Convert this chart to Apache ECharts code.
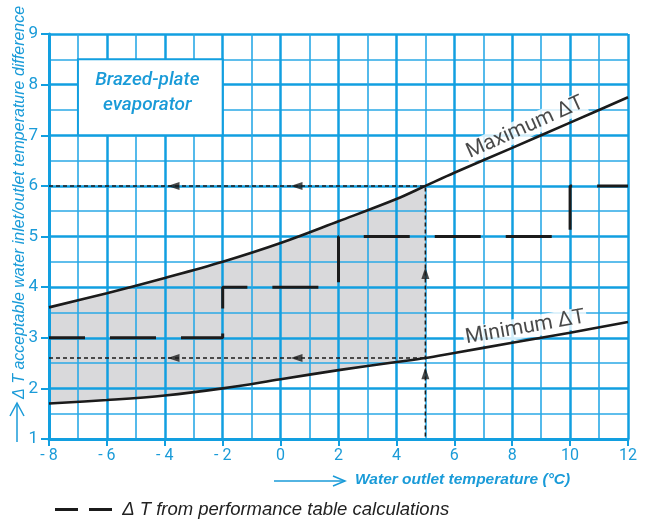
<!DOCTYPE html>
<html>
<head>
<meta charset="utf-8">
<script src="https://cdn.jsdelivr.net/npm/echarts@6/dist/echarts.min.js"></script>
<style>
  html, body { margin: 0; padding: 0; background: #fff; }
  #chart { width: 647px; height: 520px; }
</style>
</head>
<body>
<div id="chart"></div>
<script>
// Water outlet temperature (°C) sample points for the two limit curves
const outletTemps = [-8, -6, -4, -2, 0, 2, 4, 5, 6, 8, 10, 12];
// Maximum acceptable ΔT (K)
const maxDeltaT = [3.6, 3.88, 4.18, 4.5, 4.87, 5.3, 5.74, 6.0, 6.26, 6.75, 7.25, 7.75];
// Minimum acceptable ΔT (K)
const minDeltaT = [1.7, 1.77, 1.86, 2.0, 2.18, 2.36, 2.52, 2.6, 2.7, 2.9, 3.1, 3.31];

// ΔT from performance table calculations (stepped)
const stepTemps = [-8, -2, 2, 10, 12];
const stepDeltaT = [3, 4, 5, 6, 6];

// Worked example: reading at 5 °C outlet temperature
const exampleTemp = 5;
const leftArrowTemps = [-3.7, 0.55];
const upArrowDeltaT = [2.3, 4.28];

// Title box extent (axis units)
const boxFrom = [-7, 8.5];
const boxTo = [-2, 7];

const curveLabels = ['Maximum ΔT', 'Minimum ΔT'];
const stepName = 'Δ T from performance table calculations';
const titleText = 'Brazed-plate\nevaporator';
const xTitle = 'Water outlet temperature (°C)';
const yTitle = 'Δ T acceptable water inlet/outlet temperature difference';

const cyan = '#129fe0';
const cyanMinor = '#2aa9e6';
const textCyan = '#1a9bd8';
const ink = '#1b1b1b';

const exIdx = outletTemps.indexOf(exampleTemp);
const exMax = maxDeltaT[exIdx];
const exMin = minDeltaT[exIdx];

// indices of the acceptable band drawn up to the example temperature
const bandIdx = outletTemps.map((t, i) => i).filter(i => outletTemps[i] <= exampleTemp);

const chart = echarts.init(document.getElementById('chart'), null, { renderer: 'canvas' });

const axisCommon = {
  type: 'value',
  z: 0.5,
  axisLine: { onZero: false, lineStyle: { color: cyan, width: 3 } },
  splitLine: { show: true, lineStyle: { color: cyan, width: 2.5 } },
  minorTick: { show: false, splitNumber: 2 },
  minorSplitLine: { show: true, lineStyle: { color: cyanMinor, width: 1.6 } }
};

const option = {
  animation: false,
  backgroundColor: '#fff',
  grid: { left: 49, right: 19, top: 34, bottom: 81 },
  xAxis: Object.assign({}, axisCommon, {
    min: -8, max: 12, interval: 2,
    axisTick: { show: true, length: 7, lineStyle: { color: cyan, width: 2 } },
    axisLabel: {
      color: textCyan, fontSize: 16, fontFamily: 'Roboto', margin: 9,
      formatter: v => (v < 0 ? '- ' + Math.abs(v) : String(v))
    }
  }),
  yAxis: Object.assign({}, axisCommon, {
    min: 1, max: 9, interval: 1,
    axisTick: { show: true, length: 8, lineStyle: { color: cyan, width: 2 } },
    axisLabel: { color: textCyan, fontSize: 17, fontFamily: 'Roboto', margin: 11 }
  }),
  legend: {
    left: 50, top: 495,
    data: [stepName],
    selectedMode: false,
    icon: 'path://M0,0H23V3H0Z M34,0H57V3H34Z',
    itemWidth: 57, itemHeight: 3,
    formatter: n => ' ' + n,
    textStyle: { fontStyle: 'italic', fontSize: 18.5, color: '#222', fontFamily: 'Liberation Sans' }
  },
  graphic: [
    // y-axis title with arrow
    { type: 'line', silent: true, shape: { x1: 17, y1: 442, x2: 17, y2: 404 }, style: { stroke: textCyan, lineWidth: 1.5 } },
    { type: 'polyline', silent: true, shape: { points: [[10, 416], [17, 403], [24, 416]] }, style: { stroke: textCyan, lineWidth: 1.5, fill: null } },
    {
      type: 'text', silent: true, x: 20, y: 399, rotation: Math.PI / 2,
      style: { text: yTitle, fill: textCyan, font: 'italic 16px "Liberation Sans"', textAlign: 'left', textVerticalAlign: 'middle' }
    },
    // x-axis title with arrow
    { type: 'line', silent: true, shape: { x1: 274, y1: 481, x2: 345, y2: 481 }, style: { stroke: textCyan, lineWidth: 1.5 } },
    { type: 'polyline', silent: true, shape: { points: [[333, 476], [345, 481], [333, 486]] }, style: { stroke: textCyan, lineWidth: 1.5, fill: null } },
    {
      type: 'text', silent: true, x: 355, y: 480,
      style: { text: xTitle, fill: textCyan, font: 'italic bold 15.5px "Liberation Sans"', textAlign: 'left', textVerticalAlign: 'middle' }
    }
  ],
  series: [
    {
      // shaded acceptable band between the two limit curves
      type: 'custom', z: 0, silent: true,
      data: [[exampleTemp, exMax]],
      renderItem: (params, api) => {
        const upper = bandIdx.map(i => api.coord([outletTemps[i], maxDeltaT[i]]));
        const lower = bandIdx.slice().reverse().map(i => api.coord([outletTemps[i], minDeltaT[i]]));
        return { type: 'polygon', shape: { points: upper.concat(lower) }, style: { fill: '#d9d9db' } };
      }
    },
    {
      type: 'scatter', data: [], silent: true,
      markArea: {
        silent: true, z: 1,
        itemStyle: { color: '#fff', borderColor: cyan, borderWidth: 2 },
        label: {
          show: true, position: 'inside', offset: [-3, -5],
          color: textCyan, fontSize: 19, fontStyle: 'italic', fontWeight: 500,
          fontFamily: 'Roboto', lineHeight: 25, align: 'center'
        },
        data: [[{ coord: boxFrom, name: titleText }, { coord: boxTo }]]
      }
    },
    {
      type: 'line', data: outletTemps.map((t, i) => [t, maxDeltaT[i]]), z: 3, silent: true,
      symbol: 'none', smooth: 0.35, lineStyle: { color: ink, width: 2.6 }
    },
    {
      type: 'line', data: outletTemps.map((t, i) => [t, minDeltaT[i]]), z: 3, silent: true,
      symbol: 'none', smooth: 0.35, lineStyle: { color: ink, width: 2.6 }
    },
    {
      name: stepName, type: 'line', step: 'end', z: 3, silent: true,
      data: stepTemps.map((t, i) => [t, stepDeltaT[i]]),
      symbol: 'none', color: ink,
      lineStyle: { color: ink, width: 3, type: [46, 25], dashOffset: 10 }
    },
    {
      type: 'line', z: 3, silent: true, symbol: 'none',
      data: [[-8, exMax], [exampleTemp, exMax], [exampleTemp, 1]],
      lineStyle: { color: ink, width: 1.5, type: [4, 3] }
    },
    {
      type: 'line', z: 3, silent: true, symbol: 'none',
      data: [[-8, exMin], [exampleTemp, exMin]],
      lineStyle: { color: ink, width: 1.5, type: [4, 3] }
    },
    {
      type: 'scatter', z: 4, silent: true,
      symbol: 'triangle', symbolSize: [8, 12], symbolRotate: 90,
      itemStyle: { color: ink },
      data: leftArrowTemps.flatMap(t => [[t, exMax], [t, exMin]])
    },
    {
      type: 'scatter', z: 4, silent: true,
      symbol: 'triangle', symbolSize: [8, 12], symbolRotate: 0,
      itemStyle: { color: ink },
      data: upArrowDeltaT.map(v => [exampleTemp, v])
    },
    {
      type: 'scatter', z: 1.5, silent: true, symbolSize: 0,
      data: [
        { value: [8.45, 7.15], label: { rotate: 24, formatter: curveLabels[0] } },
        { value: [8.45, 3.2], label: { rotate: 10, formatter: curveLabels[1] } }
      ],
      label: {
        show: true, position: 'inside', color: ink, fontSize: 21,
        fontFamily: 'Roboto', backgroundColor: '#fff', padding: [0, 2, 0, 2]
      }
    }
  ]
};

chart.setOption(option);
</script>
</body>
</html>
